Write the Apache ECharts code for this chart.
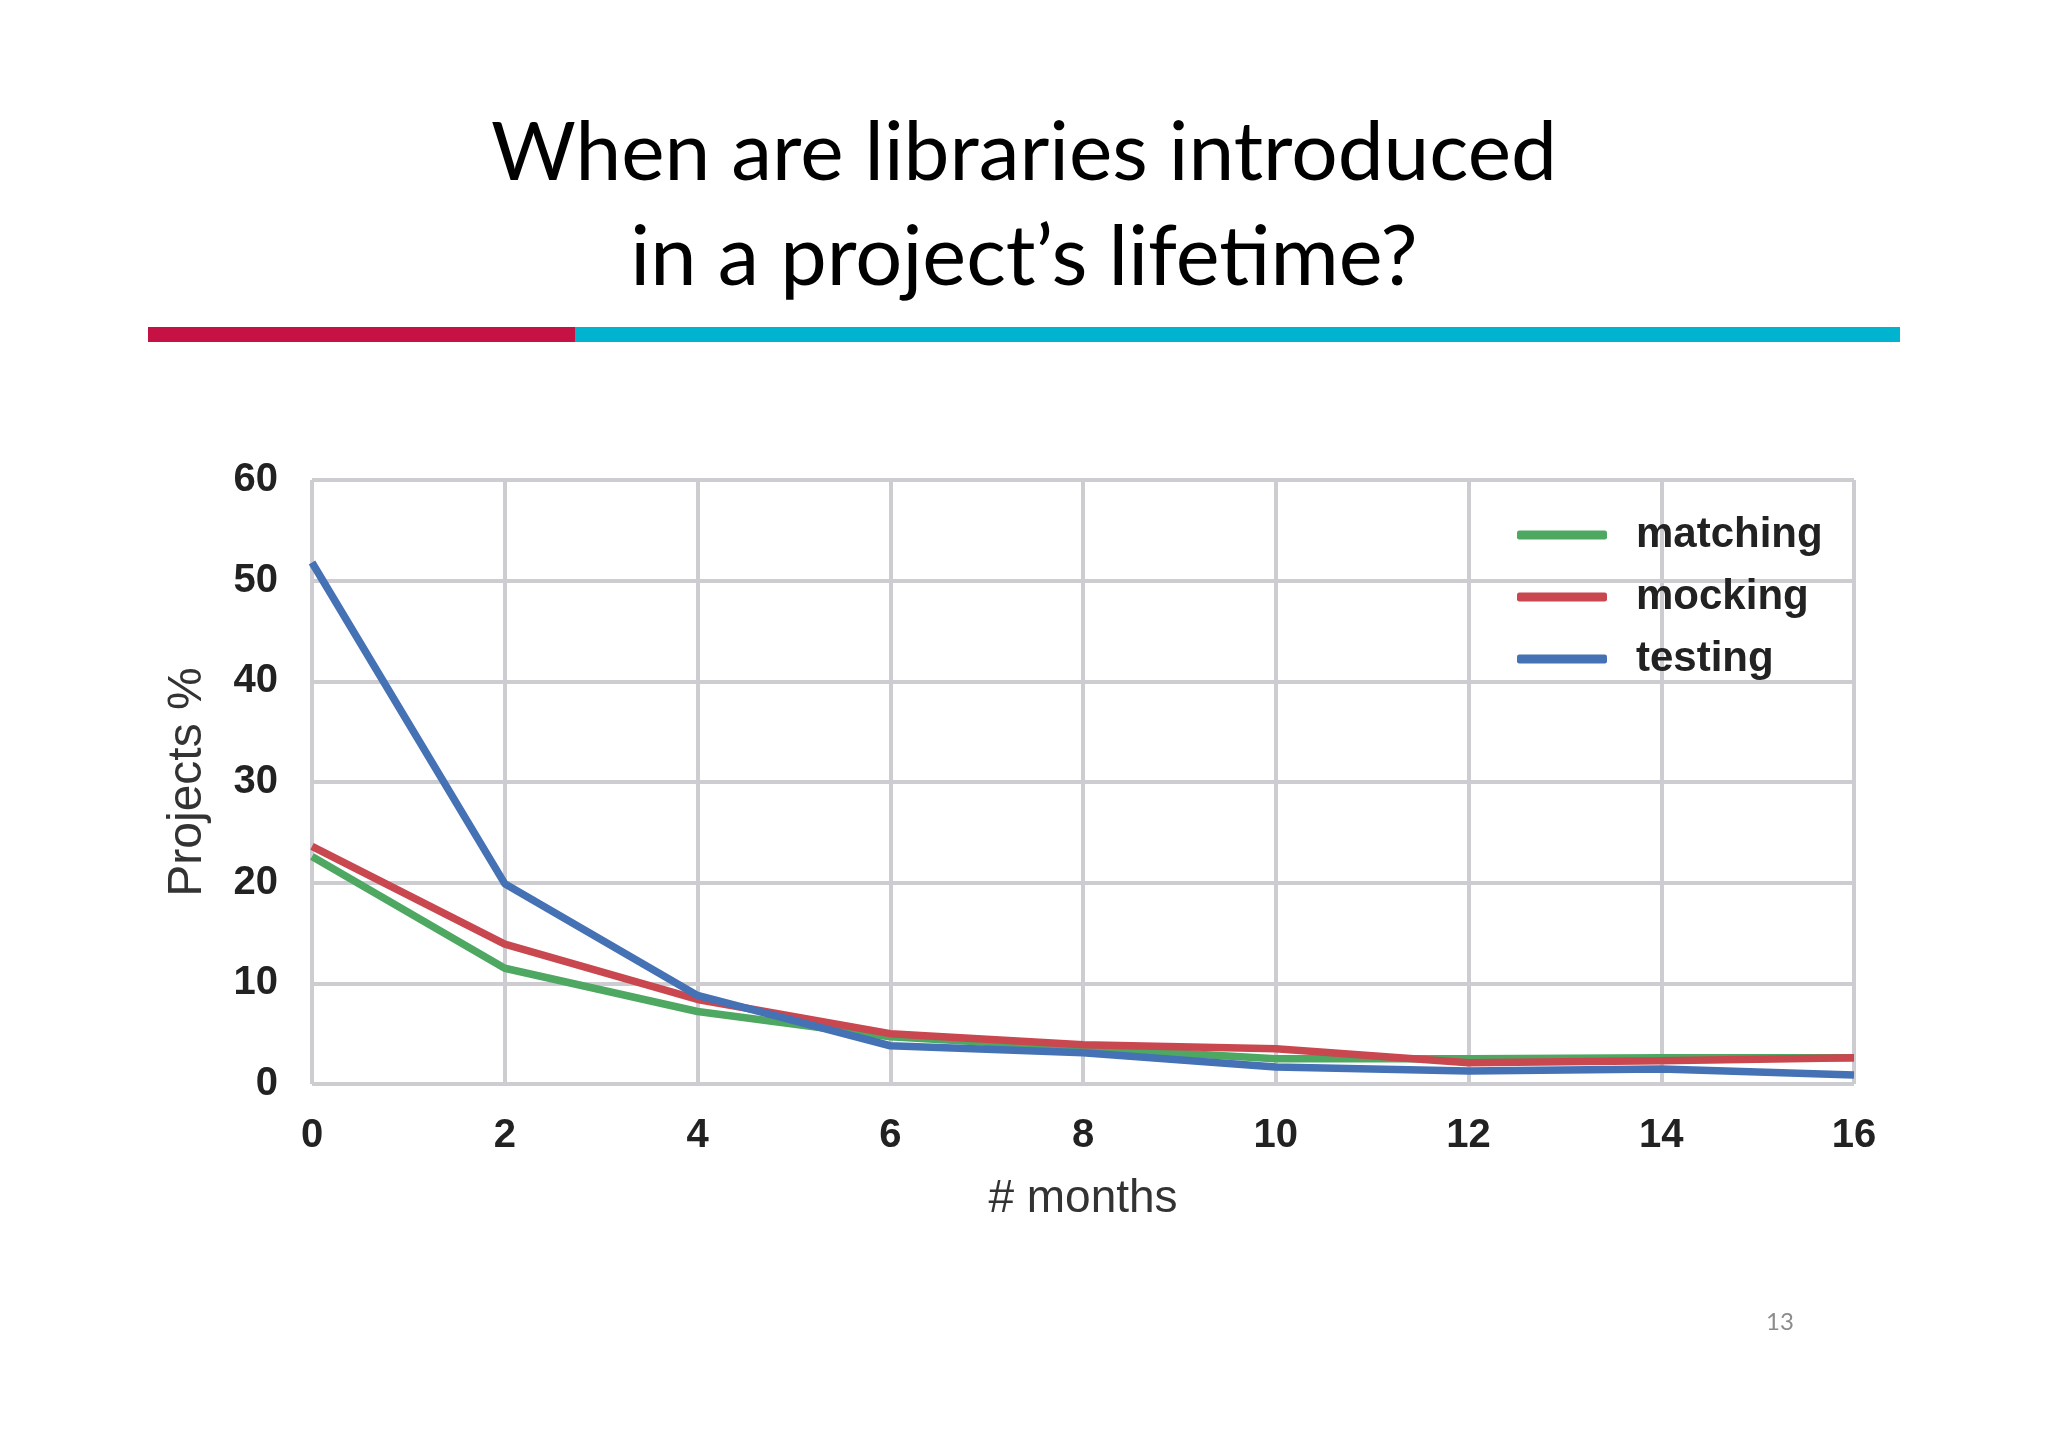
<!DOCTYPE html>
<html>
<head>
<meta charset="utf-8">
<script src="https://cdn.jsdelivr.net/npm/echarts@6/dist/echarts.min.js"></script>
<style>
html,body{margin:0;padding:0;background:#ffffff;}
#chart{width:2048px;height:1447px;}
</style>
</head>
<body>
<div id="chart"></div>
<script>
// ---- data ----
const months = [0, 2, 4, 6, 8, 10, 12, 14, 16];
const matching = [22.6, 11.5, 7.2, 4.7, 3.6, 2.5, 2.5, 2.6, 2.6];
const mocking  = [23.6, 13.9, 8.4, 5.0, 3.9, 3.5, 2.1, 2.3, 2.6];
const testing  = [51.8, 19.9, 8.8, 3.8, 3.1, 1.7, 1.3, 1.5, 0.9];
const seriesNames = ['matching', 'mocking', 'testing'];
const xTicks = [0, 2, 4, 6, 8, 10, 12, 14, 16];
const yTicks = [0, 10, 20, 30, 40, 50, 60];
const titleLines = ['When are libraries introduced', 'in a project\u2019s lifetime?'];
const xAxisTitle = '# months';
const yAxisTitle = 'Projects %';
const pageNumber = '13';

const colors = ['#4ea862', '#c9474f', '#4571b5'];
const pair = (vals) => months.map((m, i) => [m, vals[i]]);
const seriesData = [matching, mocking, testing];

const chart = echarts.init(document.getElementById('chart'), null, {renderer: 'canvas'});
const gridColor = '#cdcdd1';
const labelFont = 'Liberation Sans, Arial, sans-serif';

chart.setOption({
  animation: false,
  backgroundColor: '#ffffff',
  color: colors,
  grid: {left: 312, right: 194, top: 480, bottom: 363, containLabel: false},
  xAxis: {
    type: 'value', min: xTicks[0], max: xTicks[xTicks.length - 1], interval: xTicks[1] - xTicks[0],
    name: xAxisTitle, nameLocation: 'middle', nameGap: 92,
    nameTextStyle: {fontSize: 46, color: '#333', fontFamily: labelFont},
    axisLine: {show: false}, axisTick: {show: false},
    axisLabel: {fontSize: 40, fontWeight: 'bold', color: '#222', fontFamily: labelFont, margin: 32},
    splitLine: {show: true, lineStyle: {color: gridColor, width: 4}}
  },
  yAxis: {
    type: 'value', min: yTicks[0], max: yTicks[yTicks.length - 1], interval: yTicks[1] - yTicks[0],
    name: yAxisTitle, nameLocation: 'middle', nameGap: 100, nameRotate: 90,
    nameTextStyle: {fontSize: 48, color: '#333', fontFamily: labelFont},
    axisLine: {show: false}, axisTick: {show: false},
    axisLabel: {fontSize: 40, fontWeight: 'bold', color: '#222', fontFamily: labelFont, margin: 34},
    splitLine: {show: true, lineStyle: {color: gridColor, width: 4}}
  },
  legend: {
    orient: 'vertical', left: 1512, top: 509,
    itemWidth: 90, itemHeight: 9, itemGap: 20, icon: 'roundRect',
    textStyle: {fontSize: 42, fontWeight: 'bold', color: '#222', fontFamily: labelFont, padding: [0, 0, 0, 24]},
    data: seriesNames
  },
  series: seriesNames.map((n, i) => ({
    name: n, type: 'line', data: pair(seriesData[i]), symbol: 'none',
    lineStyle: {width: 7.5, color: colors[i]}, itemStyle: {color: colors[i]}
  })),
  graphic: [
    {type: 'rect', shape: {x: 148, y: 327, width: 427, height: 15}, style: {fill: '#c51144'}},
    {type: 'rect', shape: {x: 575, y: 327, width: 1325, height: 15}, style: {fill: '#00b4cf'}},
    {type: 'text', x: 1024, y: 154, style: {text: titleLines[0], fontSize: 82, fontFamily: 'Lato, Open Sans, sans-serif', fill: '#000', align: 'center', verticalAlign: 'middle'}},
    {type: 'text', x: 1024, y: 258, style: {text: titleLines[1], fontSize: 83, fontFamily: 'Lato, Open Sans, sans-serif', fill: '#000', align: 'center', verticalAlign: 'middle'}},
    {type: 'text', x: 1780, y: 1322, style: {text: pageNumber, fontSize: 24, fontFamily: 'Lato, Open Sans, sans-serif', fill: '#8c8c8c', align: 'center', verticalAlign: 'middle'}}
  ]
});
</script>
</body>
</html>
